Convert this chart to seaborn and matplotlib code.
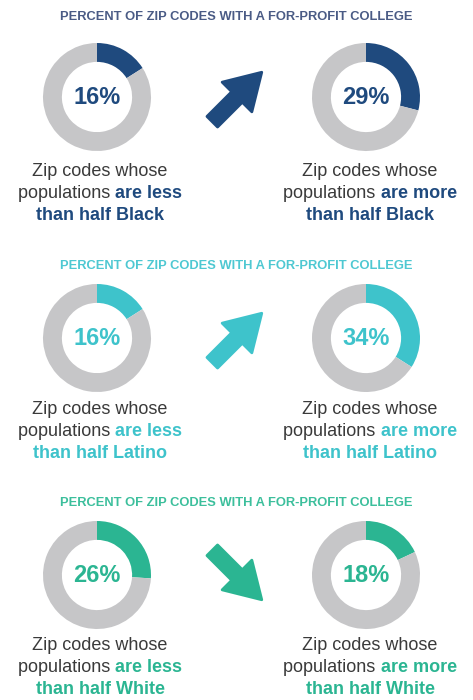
import matplotlib
matplotlib.use("Agg")
import matplotlib.pyplot as plt
from matplotlib.patches import FancyArrow
import seaborn as sns

sns.set_theme(style="white")
plt.rcParams["font.family"] = ["Liberation Sans", "DejaVu Sans"]

# data
groups = ["Black", "Latino", "White"]
pct_less = [16, 16, 26]
pct_more = [29, 34, 18]
title = "PERCENT OF ZIP CODES WITH A FOR-PROFIT COLLEGE"

accent = ["#1f4a7e", "#3ec3cb", "#2bb592"]
title_col = ["#4a5b85", "#4ec8d2", "#3cbf9c"]
ring_grey = "#c6c6c8"
text_grey = "#3a3a3a"

W, H = 473, 700
fig = plt.figure(figsize=(W / 100, H / 100), dpi=100)
fig.patch.set_facecolor("white")

# overlay axes in pixel units for text and arrows
ov = fig.add_axes([0, 0, 1, 1])
ov.set_xlim(0, W)
ov.set_ylim(H, 0)
ov.axis("off")

section_y = [97, 338, 575]   # donut centres
title_y = [17, 266, 503]
caption_y = [171, 409, 645]
left_x, right_x = 97, 366
R = 54

renderer = fig.canvas.get_renderer()


def donut(cx, cy, pct, col):
    ax = fig.add_axes([(cx - R) / W, 1 - (cy + R) / H, 2 * R / W, 2 * R / H], zorder=2)
    ax.pie([pct, 100 - pct], colors=[col, ring_grey], startangle=90,
           counterclock=False, wedgeprops=dict(width=0.35, linewidth=0))
    ax.set_xlim(-1, 1)
    ax.set_ylim(-1, 1)
    ax.set_aspect("equal")
    ax.axis("off")
    ax.text(0, 0, f"{pct}%", ha="center", va="center", fontsize=17,
            fontweight="bold", color=col)


def mixed_line(cx, y, parts):
    texts = []
    for s, c, w in parts:
        t = ov.text(0, y, s, color=c, fontweight=w, fontsize=13,
                    ha="left", va="center")
        texts.append(t)
    widths = [t.get_window_extent(renderer).width for t in texts]
    x = cx - sum(widths) / 2
    for t, w in zip(texts, widths):
        t.set_x(x)
        x += w


def caption(cx, y0, word, group, col):
    mixed_line(cx, y0, [("Zip codes whose", text_grey, "normal")])
    mixed_line(cx, y0 + 22.5, [("populations ", text_grey, "normal"),
                               (f"are {word}", col, "bold")])
    mixed_line(cx, y0 + 45, [(f"than half {group}", col, "bold")])


for i, g in enumerate(groups):
    cy = section_y[i]
    ov.text(W / 2, title_y[i], title, ha="center", va="center", fontsize=9.3,
            fontweight="bold", color=title_col[i])
    donut(left_x, cy, pct_less[i], accent[i])
    donut(right_x, cy, pct_more[i], accent[i])

    # arrow points up when the share rises, down when it falls
    sign = 1 if pct_more[i] > pct_less[i] else -1
    L = 70
    d = L / 2 ** 0.5
    x0 = 237 - d / 2
    y0 = cy + sign * d / 2
    ov.add_patch(FancyArrow(x0, y0, d, -sign * d, width=15, head_width=42,
                            head_length=35, length_includes_head=True,
                            color=accent[i], joinstyle="round", linewidth=2))

    caption(100, caption_y[i], "less", g, accent[i])
    caption(370, caption_y[i], "more", g, accent[i])

fig.savefig("out.png", dpi=100, facecolor="white")
